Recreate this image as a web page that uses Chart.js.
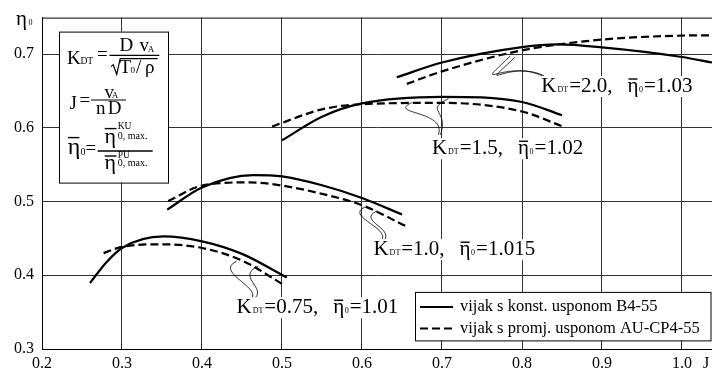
<!DOCTYPE html>
<html>
<head>
<meta charset="utf-8">
<script src="https://cdn.jsdelivr.net/npm/chart.js@4.4.1/dist/chart.umd.min.js"></script>
<style>
  html, body { margin: 0; padding: 0; background: #fff; }
  #wrap { width: 712px; height: 368px; }
</style>
</head>
<body>
<div id="wrap"><canvas id="chart"></canvas></div>
<script>
// ---------------------------------------------------------
// Data: eta_0 over advance ratio J
// ---------------------------------------------------------
const xTickValues = [0.2, 0.3, 0.4, 0.5, 0.6, 0.7, 0.8, 0.9, 1.0];
const yTickValues = [0.3, 0.4, 0.5, 0.6, 0.7];

// K_DT = 0.75
const j075Solid   = [0.26, 0.28, 0.30, 0.352, 0.40, 0.45, 0.506];
const eta075Solid = [0.3895, 0.417, 0.437, 0.4526, 0.446, 0.429, 0.397];
const j075Dashed   = [0.277, 0.30, 0.35, 0.40, 0.45, 0.502];
const eta075Dashed = [0.430, 0.4385, 0.442, 0.437, 0.420, 0.387];

// K_DT = 1.0
const j100Solid   = [0.3565, 0.40, 0.464, 0.50, 0.55, 0.60, 0.650];
const eta100Solid = [0.489, 0.519, 0.5358, 0.534, 0.522, 0.5047, 0.4824];
const j100Dashed   = [0.3577, 0.40, 0.46, 0.50, 0.55, 0.60, 0.656];
const eta100Dashed = [0.5007, 0.5216, 0.526, 0.5216, 0.5104, 0.495, 0.466];

// K_DT = 1.5
const j150Solid   = [0.50, 0.55, 0.60, 0.70, 0.80, 0.85];
const eta150Solid = [0.583, 0.615, 0.633, 0.642, 0.635, 0.617];
const j150Dashed   = [0.4876, 0.55, 0.60, 0.70, 0.80, 0.851];
const eta150Dashed = [0.6017, 0.625, 0.632, 0.6338, 0.622, 0.6017];

// K_DT = 2.0
const j200Solid   = [0.6435, 0.70, 0.80, 0.845, 0.90, 1.00, 1.0375];
const eta200Solid = [0.6685, 0.6885, 0.7094, 0.713, 0.709, 0.696, 0.6885];
const j200Dashed   = [0.656, 0.70, 0.80, 0.90, 1.00, 1.0375];
const eta200Dashed = [0.6595, 0.6765, 0.705, 0.7196, 0.725, 0.7254];

// curve labels: K_DT value, eta ratio, anchor (J, eta) of the label baseline start
const labelK   = ['0.75', '1.0', '1.5', '2.0'];
const labelEta = ['1.01', '1.015', '1.02', '1.03'];
const labelAt  = [[0.4431, 0.3485], [0.6143, 0.4272], [0.6874, 0.5641], [0.8242, 0.6485]];

// leader lines (two thin strands from the curves to each label)
const leaders = [
  { from: [[0.4433, 0.4192], [0.4703, 0.4126]], to: [0.4558, 0.3636], c1: [-25, 12], c2: [25, -12] },
  { from: [[0.6039, 0.4927], [0.6189, 0.4873]], to: [0.6214, 0.4433], c1: [-22, 10], c2: [18, -14] },
  { from: [[0.6623, 0.6342], [0.7081, 0.6395]], to: [0.6956, 0.5905], c1: [-25, 12], c2: [8, -25] },
  { from: [[0.7853, 0.6973], [0.7910, 0.6955]], to: [0.8250, 0.6706], c1: [-40, 38], c2: [-37, -17] }
];

const legendLabels = ['vijak s konst. usponom B4-55', 'vijak s promj. usponom AU-CP4-55'];

const SERIF = '"Liberation Serif", "Times New Roman", Times, serif';
const DASH = [8, 4];

function series(xs, ys, dashed) {
  return {
    data: xs.map((x, i) => ({ x: x, y: ys[i] })),
    borderColor: '#000',
    borderWidth: 2.2,
    borderDash: dashed ? DASH : [],
    pointRadius: 0,
    cubicInterpolationMode: 'monotone',
    fill: false
  };
}

// ---------------------------------------------------------
// text helpers
// ---------------------------------------------------------
function txt(ctx, s, x, y, size) {
  ctx.font = size + 'px ' + SERIF;
  ctx.fillText(s, x, y);
  return x + ctx.measureText(s).width;
}
function bar(ctx, x1, x2, y, w) {
  ctx.beginPath();
  ctx.lineWidth = w || 1;
  ctx.moveTo(x1, y);
  ctx.lineTo(x2, y);
  ctx.stroke();
}

function drawKLabel(ctx, x, y, k, eta) {
  const parts = [['K', 21, 0], ['DT', 8, 1], ['=' + k + ',', 21, 1], ['\u03B7', 21, 15], ['0', 8, 0.5], ['=' + eta, 21, 1]];
  let w = 0;
  parts.forEach(p => { ctx.font = p[1] + 'px ' + SERIF; w += p[2] + ctx.measureText(p[0]).width; });
  ctx.fillStyle = '#fff';
  ctx.fillRect(x - 1, y - 16, w + 2, 21);
  ctx.fillStyle = '#000';
  ctx.strokeStyle = '#000';
  let cx = x;
  parts.forEach(p => {
    cx += p[2];
    const start = cx;
    cx = txt(ctx, p[0], cx, y, p[1]);
    if (p[0] === '\u03B7') bar(ctx, start + 1, cx - 1, y - 13, 1.4);
  });
}

function drawFormulaBox(ctx, bx, by) {
  ctx.fillStyle = '#fff';
  ctx.fillRect(bx, by, 109, 151);
  ctx.strokeStyle = '#000';
  ctx.lineWidth = 1;
  ctx.strokeRect(bx + 0.5, by + 0.5, 109, 151);
  ctx.fillStyle = '#000';

  // K_DT = D v_A / sqrt(T0/rho)
  txt(ctx, 'K', bx + 8, by + 32.7, 19);
  txt(ctx, 'DT', bx + 21.4, by + 32.7, 9.5);
  txt(ctx, '=', bx + 38, by + 28, 19);
  bar(ctx, bx + 50.4, bx + 100.4, by + 23.7, 1.3);
  txt(ctx, 'D', bx + 60.4, by + 19.4, 19);
  txt(ctx, 'v', bx + 80.4, by + 19.4, 19);
  txt(ctx, 'A', bx + 88.7, by + 20, 9);
  ctx.beginPath();
  ctx.lineWidth = 1.2;
  ctx.moveTo(bx + 52, by + 35);
  ctx.lineTo(bx + 54.2, by + 33.2);
  ctx.lineTo(bx + 57.7, by + 42.7);
  ctx.lineTo(bx + 61.2, by + 27);
  ctx.lineTo(bx + 98.7, by + 27);
  ctx.stroke();
  txt(ctx, 'T', bx + 60.4, by + 41, 19);
  txt(ctx, '0', bx + 71.4, by + 41.7, 9);
  txt(ctx, '/', bx + 77, by + 41, 19);
  txt(ctx, '\u03C1', bx + 86, by + 41, 19);

  // J = v_A / (n D)
  txt(ctx, 'J', bx + 10.4, by + 77.7, 19);
  txt(ctx, '=', bx + 20.4, by + 74.2, 19);
  bar(ctx, bx + 32, bx + 67, by + 68.4, 1.2);
  txt(ctx, 'v', bx + 45.4, by + 66, 19);
  txt(ctx, 'A', bx + 52.7, by + 66, 9);
  txt(ctx, 'n', bx + 37, by + 82.7, 19);
  txt(ctx, 'D', bx + 48.7, by + 82.7, 19);

  // eta0 = eta_KU / eta_PU
  txt(ctx, '\u03B7', bx + 8.7, by + 122.7, 24);
  bar(ctx, bx + 9, bx + 20.4, by + 106, 1.4);
  txt(ctx, '0', bx + 21.4, by + 123.5, 10);
  txt(ctx, '=', bx + 26.4, by + 122.5, 19);
  bar(ctx, bx + 38.7, bx + 93.7, by + 119.4, 1.3);
  txt(ctx, '\u03B7', bx + 45.4, by + 111, 22);
  bar(ctx, bx + 45.7, bx + 57.5, by + 97, 1.4);
  txt(ctx, 'KU', bx + 58.7, by + 97.7, 9.5);
  txt(ctx, '0, max.', bx + 58.7, by + 107, 10);
  txt(ctx, '\u03B7', bx + 45.4, by + 137.7, 22);
  bar(ctx, bx + 45.7, bx + 57.5, by + 124.4, 1.4);
  txt(ctx, 'PU', bx + 58.7, by + 126, 9.5);
  txt(ctx, '0, max.', bx + 58.7, by + 134, 10);
}

function drawLegendBox(ctx, lx, ly) {
  const w = 295.5, h = 48.5;
  ctx.fillStyle = '#fff';
  ctx.fillRect(lx, ly, w, h);
  ctx.strokeStyle = '#000';
  ctx.lineWidth = 1;
  ctx.strokeRect(lx + 0.5, ly + 0.5, w, h);
  ctx.fillStyle = '#000';
  [0, 1].forEach(i => {
    const yy = ly + 15 + i * 21.7;
    ctx.setLineDash(i ? DASH : []);
    bar(ctx, lx + 5, lx + 38, yy, 2);
    ctx.setLineDash([]);
    txt(ctx, legendLabels[i], lx + 45, yy + 4.5, 16.5);
  });
}

const annotations = {
  id: 'annotations',
  afterDatasetsDraw(chart) {
    const ctx = chart.ctx;
    const xs = chart.scales.x, ys = chart.scales.y;
    const ca = chart.chartArea;
    const px = (p) => [xs.getPixelForValue(p[0]), ys.getPixelForValue(p[1])];
    ctx.save();

    // top frame line
    ctx.strokeStyle = '#000';
    bar(ctx, ca.left, ca.right, ca.top + 0.5, 1);

    // leaders
    ctx.strokeStyle = '#000';
    ctx.lineWidth = 0.8;
    leaders.forEach(l => {
      const e = px(l.to);
      l.from.forEach((f, i) => {
        const s = px(f);
        ctx.beginPath();
        ctx.moveTo(s[0], s[1]);
        ctx.bezierCurveTo(s[0] + l.c1[0], s[1] + l.c1[1], e[0] + l.c2[0] + i * 3, e[1] + l.c2[1], e[0] + i * 2, e[1]);
        ctx.stroke();
      });
    });

    // curve labels
    ctx.textAlign = 'left';
    ctx.textBaseline = 'alphabetic';
    labelAt.forEach((p, i) => {
      const q = px(p);
      drawKLabel(ctx, q[0], q[1], labelK[i], labelEta[i]);
    });

    drawFormulaBox(ctx, ca.left + 17, ca.top + 14);
    drawLegendBox(ctx, ca.left + 373, ca.top + 274.3);
    ctx.restore();
  },
  afterDraw(chart) {
    const ctx = chart.ctx;
    const ca = chart.chartArea;
    ctx.save();
    ctx.fillStyle = '#000';
    ctx.textAlign = 'left';
    ctx.textBaseline = 'alphabetic';
    // axis titles
    txt(ctx, '\u03B7', 16, 24.5, 21);
    txt(ctx, '0', 28.5, 24.5, 8);
    txt(ctx, 'J', ca.right - 9, 368, 16);
    ctx.restore();
  }
};

new Chart(document.getElementById('chart'), {
  type: 'line',
  data: {
    datasets: [
      series(j075Solid, eta075Solid, false),
      series(j075Dashed, eta075Dashed, true),
      series(j100Solid, eta100Solid, false),
      series(j100Dashed, eta100Dashed, true),
      series(j150Solid, eta150Solid, false),
      series(j150Dashed, eta150Dashed, true),
      series(j200Solid, eta200Solid, false),
      series(j200Dashed, eta200Dashed, true)
    ]
  },
  options: {
    responsive: true,
    maintainAspectRatio: false,
    animation: false,
    layout: { padding: { top: 13, left: 0, right: 0, bottom: 0 } },
    plugins: { legend: { display: false }, tooltip: { enabled: false } },
    scales: {
      x: {
        type: 'linear',
        min: 0.2,
        max: 1.0375,
        afterBuildTicks: s => { s.ticks = xTickValues.map(v => ({ value: v })); },
        afterFit: s => { s.height = 19; },
        ticks: {
          callback: v => v.toFixed(1),
          font: { family: SERIF, size: 16 },
          color: '#000',
          padding: 5,
          maxRotation: 0,
          autoSkip: false
        },
        grid: { color: '#333', lineWidth: 1, drawTicks: false },
        border: { color: '#000', width: 1 }
      },
      y: {
        type: 'linear',
        min: 0.3,
        max: 0.7494,
        afterBuildTicks: s => { s.ticks = yTickValues.map(v => ({ value: v })); },
        afterFit: s => { s.width = 42; },
        ticks: {
          callback: v => v.toFixed(1),
          font: { family: SERIF, size: 16 },
          color: '#000',
          padding: 8
        },
        grid: { color: '#333', lineWidth: 1, drawTicks: false },
        border: { color: '#000', width: 1 }
      }
    }
  },
  plugins: [annotations]
});
</script>
</body>
</html>
